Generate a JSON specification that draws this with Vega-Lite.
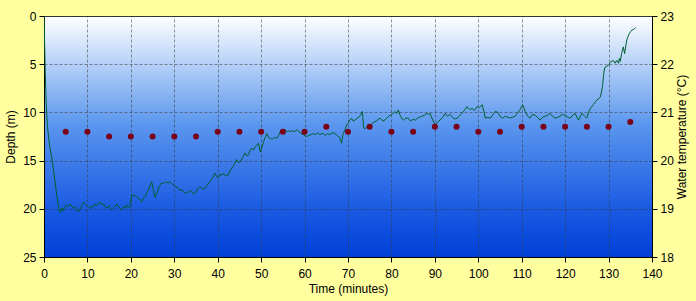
{
  "$schema": "https://vega.github.io/schema/vega-lite/v6.json",
  "width": 608,
  "height": 241,
  "autosize": {"type": "none"},
  "padding": {"left": 44, "top": 16, "right": 44, "bottom": 44},
  "background": "#FFFFA0",
  "config": {
    "font": "Liberation Sans",
    "view": {
      "stroke": "#333333",
      "strokeWidth": 1,
      "fill": {
        "gradient": "linear",
        "x1": 0, "y1": 0, "x2": 0, "y2": 1,
        "stops": [
          {"offset": 0, "color": "#FFFFFF"},
          {"offset": 0.2, "color": "#B4D0F8"},
          {"offset": 0.45, "color": "#5A96EE"},
          {"offset": 0.8, "color": "#1A5AE2"},
          {"offset": 1, "color": "#0040D8"}
        ]
      }
    },
    "axis": {
      "labelFontSize": 12,
      "titleFontSize": 12,
      "titleFontWeight": "normal",
      "labelColor": "#000",
      "titleColor": "#000",
      "domainColor": "#000",
      "tickColor": "#000",
      "tickSize": 5,
      "gridColor": "#3A3A3A",
      "gridOpacity": 0.55,
      "gridDash": [3, 2],
      "gridWidth": 1
    }
  },
  "datasets": {
    "depth": [
      {"t":0,"d":0},{"t":0.15,"d":3},{"t":0.3,"d":6},{"t":0.5,"d":9},{"t":0.8,"d":11.5},{"t":1.3,"d":13.5},{"t":1.9,"d":15},{"t":2.5,"d":17},{"t":3.0,"d":18.8},{"t":3.5,"d":20.2},
      {"t":3.8,"d":20.4},{"t":4.1,"d":19.9},{"t":4.4,"d":20.2},{"t":4.8,"d":19.8},{"t":5.1,"d":19.6},{"t":5.5,"d":19.8},{"t":6.0,"d":19.5},{"t":6.4,"d":19.7},{"t":6.8,"d":19.95},{"t":7.2,"d":19.8},
      {"t":7.6,"d":20.1},{"t":7.9,"d":20.3},{"t":8.3,"d":20.0},{"t":8.7,"d":19.7},{"t":9.1,"d":19.3},{"t":9.5,"d":19.5},{"t":9.8,"d":19.6},{"t":10.2,"d":19.8},{"t":10.6,"d":19.95},{"t":11.0,"d":19.7},
      {"t":11.3,"d":19.8},{"t":11.7,"d":19.5},{"t":12.1,"d":19.7},{"t":12.5,"d":19.4},{"t":12.9,"d":19.3},{"t":13.3,"d":19.6},{"t":13.7,"d":19.5},{"t":14.1,"d":19.8},{"t":14.5,"d":19.9},{"t":15.0,"d":19.7},
      {"t":15.3,"d":20.0},{"t":15.6,"d":20.1},{"t":16.0,"d":19.9},{"t":16.4,"d":19.7},{"t":16.8,"d":19.5},{"t":17.2,"d":19.8},{"t":17.6,"d":20.0},{"t":17.9,"d":20.1},{"t":18.3,"d":19.8},{"t":18.7,"d":19.9},
      {"t":19.0,"d":19.6},{"t":19.4,"d":19.9},{"t":19.8,"d":19.8},{"t":20.2,"d":18.5},{"t":20.6,"d":18.7},{"t":21.0,"d":18.6},{"t":21.4,"d":18.8},{"t":21.8,"d":18.9},{"t":22.2,"d":19.1},{"t":22.5,"d":19.3},
      {"t":22.9,"d":18.9},{"t":23.3,"d":18.7},{"t":23.7,"d":18.3},{"t":24.1,"d":18.0},{"t":24.5,"d":17.5},{"t":24.8,"d":17.2},{"t":25.2,"d":18.1},{"t":25.6,"d":18.8},{"t":26.0,"d":18.4},{"t":26.4,"d":17.8},
      {"t":26.8,"d":17.5},{"t":27.1,"d":17.3},{"t":27.6,"d":17.4},{"t":28.0,"d":17.2},{"t":28.6,"d":17.3},{"t":29.0,"d":17.2},{"t":29.4,"d":17.4},{"t":29.8,"d":17.5},{"t":30.3,"d":17.7},{"t":30.8,"d":17.8},
      {"t":31.3,"d":18.1},{"t":31.8,"d":18.0},{"t":32.3,"d":18.3},{"t":32.9,"d":18.4},{"t":33.4,"d":18.2},{"t":33.8,"d":18.1},{"t":34.3,"d":18.4},{"t":34.8,"d":18.4},{"t":35.3,"d":18.0},{"t":35.9,"d":17.7},
      {"t":36.5,"d":17.9},{"t":37.1,"d":17.9},{"t":37.6,"d":17.5},{"t":38.2,"d":17.2},{"t":38.7,"d":16.9},{"t":39.1,"d":16.5},{"t":39.4,"d":16.3},{"t":39.8,"d":16.7},{"t":40.1,"d":16.8},{"t":40.6,"d":16.4},
      {"t":41.0,"d":16.5},{"t":41.3,"d":16.3},{"t":41.8,"d":16.6},{"t":42.4,"d":16.5},{"t":42.9,"d":16.0},{"t":43.3,"d":15.7},{"t":43.6,"d":15.6},{"t":44.0,"d":15.2},{"t":44.4,"d":14.9},{"t":44.8,"d":15.2},
      {"t":45.2,"d":15.1},{"t":45.7,"d":14.7},{"t":46.3,"d":14.2},{"t":46.7,"d":14.5},{"t":47.1,"d":14.4},{"t":47.5,"d":13.9},{"t":47.9,"d":13.7},{"t":48.3,"d":13.9},{"t":48.6,"d":13.6},{"t":49.0,"d":13.4},
      {"t":49.4,"d":13.2},{"t":49.8,"d":14.1},{"t":50.2,"d":13.6},{"t":50.6,"d":13.0},{"t":51.0,"d":12.5},{"t":51.3,"d":12.2},{"t":51.7,"d":12.6},{"t":52.1,"d":12.7},{"t":52.6,"d":12.8},{"t":53.1,"d":12.6},
      {"t":53.6,"d":12.7},{"t":54.0,"d":12.4},{"t":54.4,"d":12.0},{"t":54.9,"d":12.1},{"t":55.5,"d":11.8},{"t":56.0,"d":12.0},{"t":56.4,"d":11.9},{"t":56.7,"d":12.0},{"t":57.2,"d":11.9},{"t":57.7,"d":12.0},
      {"t":58.2,"d":11.8},{"t":58.7,"d":12.0},{"t":59.2,"d":12.2},{"t":59.7,"d":12.3},{"t":60.1,"d":12.4},{"t":60.5,"d":12.5},{"t":61.0,"d":12.4},{"t":61.5,"d":12.3},{"t":62.0,"d":12.2},{"t":62.5,"d":12.3},
      {"t":63.0,"d":12.1},{"t":63.5,"d":12.3},{"t":64.0,"d":12.2},{"t":64.3,"d":12.2},{"t":64.8,"d":12.4},{"t":65.3,"d":12.2},{"t":65.8,"d":12.3},{"t":66.4,"d":12.1},{"t":67.0,"d":12.2},{"t":67.5,"d":12.4},
      {"t":68.1,"d":12.6},{"t":68.5,"d":13.2},{"t":68.9,"d":12.2},{"t":69.3,"d":11.8},{"t":69.7,"d":11.3},{"t":70.1,"d":11.1},{"t":70.4,"d":10.8},{"t":70.8,"d":10.6},{"t":71.2,"d":10.9},{"t":71.6,"d":10.8},
      {"t":72.1,"d":10.6},{"t":72.7,"d":10.4},{"t":73.0,"d":10.2},{"t":73.3,"d":9.9},{"t":73.6,"d":11.6},{"t":74.0,"d":11.7},{"t":74.5,"d":11.4},{"t":75.0,"d":11.5},{"t":75.5,"d":11.2},{"t":76.0,"d":11.0},
      {"t":76.5,"d":10.9},{"t":77.0,"d":10.7},{"t":77.4,"d":10.6},{"t":78.0,"d":10.9},{"t":78.5,"d":10.8},{"t":79.1,"d":10.5},{"t":79.7,"d":10.3},{"t":80.2,"d":10.2},{"t":80.8,"d":9.9},{"t":81.2,"d":10.1},
      {"t":81.6,"d":9.75},{"t":82.0,"d":10.3},{"t":82.5,"d":10.7},{"t":82.8,"d":10.8},{"t":83.3,"d":10.6},{"t":83.9,"d":10.6},{"t":84.4,"d":10.9},{"t":85.0,"d":10.7},{"t":85.5,"d":10.8},{"t":86.0,"d":10.6},
      {"t":86.5,"d":10.5},{"t":87.0,"d":10.4},{"t":87.6,"d":10.3},{"t":88.2,"d":10.1},{"t":88.6,"d":10.2},{"t":88.9,"d":10.1},{"t":89.5,"d":10.8},{"t":90.1,"d":11.3},{"t":90.6,"d":11.0},{"t":91.2,"d":10.8},
      {"t":91.8,"d":10.5},{"t":92.4,"d":10.1},{"t":92.9,"d":10.4},{"t":93.4,"d":10.2},{"t":93.9,"d":10.4},{"t":94.5,"d":10.7},{"t":95.1,"d":10.6},{"t":95.6,"d":10.4},{"t":96.2,"d":10.1},{"t":96.8,"d":9.8},
      {"t":97.4,"d":9.4},{"t":98.0,"d":9.7},{"t":98.6,"d":9.6},{"t":99.1,"d":9.8},{"t":99.7,"d":9.4},{"t":100.3,"d":9.5},{"t":100.9,"d":9.2},{"t":101.3,"d":9.9},{"t":101.6,"d":10.6},{"t":102.2,"d":10.5},
      {"t":102.8,"d":10.6},{"t":103.4,"d":10.2},{"t":103.9,"d":9.9},{"t":104.5,"d":10.0},{"t":105.0,"d":10.4},{"t":105.6,"d":10.6},{"t":106.2,"d":10.4},{"t":106.8,"d":10.5},{"t":107.3,"d":10.6},{"t":107.9,"d":10.5},
      {"t":108.5,"d":10.4},{"t":109.0,"d":10.1},{"t":109.6,"d":9.75},{"t":110.2,"d":9.2},{"t":110.8,"d":9.9},{"t":111.4,"d":10.4},{"t":111.9,"d":10.6},{"t":112.5,"d":10.2},{"t":113.1,"d":10.3},{"t":113.6,"d":10.5},
      {"t":114.2,"d":10.8},{"t":114.8,"d":10.5},{"t":115.4,"d":10.4},{"t":115.9,"d":10.3},{"t":116.5,"d":10.1},{"t":117.1,"d":10.4},{"t":117.7,"d":10.6},{"t":118.3,"d":10.5},{"t":118.8,"d":10.4},{"t":119.4,"d":10.2},
      {"t":120.0,"d":10.3},{"t":120.6,"d":10.5},{"t":121.2,"d":10.6},{"t":121.7,"d":10.3},{"t":122.3,"d":10.1},{"t":122.7,"d":10.5},{"t":123.1,"d":10.8},{"t":123.5,"d":10.4},{"t":123.9,"d":10.1},{"t":124.5,"d":10.4},
      {"t":125.0,"d":10.6},{"t":125.4,"d":10.0},{"t":125.8,"d":9.6},{"t":126.5,"d":9.2},{"t":127.0,"d":8.9},{"t":127.3,"d":8.7},{"t":127.7,"d":8.6},{"t":128.1,"d":8.4},{"t":128.4,"d":7.8},{"t":128.6,"d":7.3},
      {"t":128.8,"d":6.4},{"t":129.0,"d":5.6},{"t":129.2,"d":5.3},{"t":129.6,"d":5.2},{"t":130.0,"d":5.1},{"t":130.4,"d":4.8},{"t":130.8,"d":4.7},{"t":131.1,"d":4.6},{"t":131.5,"d":4.9},{"t":131.9,"d":4.6},
      {"t":132.3,"d":4.9},{"t":132.5,"d":4.4},{"t":132.7,"d":4.7},{"t":133.0,"d":3.9},{"t":133.4,"d":3.2},{"t":133.7,"d":3.9},{"t":134.0,"d":3.0},{"t":134.2,"d":2.5},{"t":134.5,"d":2.1},{"t":134.8,"d":1.8},
      {"t":135.1,"d":1.6},{"t":135.4,"d":1.45},{"t":135.8,"d":1.4},{"t":136.2,"d":1.2}
    ],
    "temp": [
      {"t":5,"c":20.6},{"t":10,"c":20.6},{"t":15,"c":20.5},{"t":20,"c":20.5},{"t":25,"c":20.5},{"t":30,"c":20.5},{"t":35,"c":20.5},
      {"t":40,"c":20.6},{"t":45,"c":20.6},{"t":50,"c":20.6},{"t":55,"c":20.6},{"t":60,"c":20.6},{"t":65,"c":20.7},{"t":70,"c":20.6},
      {"t":75,"c":20.7},{"t":80,"c":20.6},{"t":85,"c":20.6},{"t":90,"c":20.7},{"t":95,"c":20.7},{"t":100,"c":20.6},{"t":105,"c":20.6},
      {"t":110,"c":20.7},{"t":115,"c":20.7},{"t":120,"c":20.7},{"t":125,"c":20.7},{"t":130,"c":20.7},{"t":135,"c":20.8}
    ]
  },
  "layer": [
    {
      "data": {"name": "depth"},
      "mark": {"type": "line", "color": "#006030", "strokeWidth": 1, "clip": true},
      "encoding": {
        "x": {
          "field": "t", "type": "quantitative",
          "scale": {"domain": [0, 140], "nice": false},
          "axis": {"title": "Time (minutes)", "values": [0,10,20,30,40,50,60,70,80,90,100,110,120,130,140], "grid": true, "labelPadding": 6, "titlePadding": 4, "labelFlush": false}
        },
        "y": {
          "field": "d", "type": "quantitative",
          "scale": {"domain": [0, 25], "reverse": true, "nice": false},
          "axis": {"title": "Depth (m)", "values": [0,5,10,15,20,25], "grid": true, "orient": "left", "labelPadding": 3, "titlePadding": 5, "labelFlush": false}
        }
      }
    },
    {
      "data": {"name": "temp"},
      "mark": {"type": "point", "filled": true, "color": "#7A0018", "size": 36, "opacity": 1},
      "encoding": {
        "x": {"field": "t", "type": "quantitative", "scale": {"domain": [0, 140], "nice": false}},
        "y": {
          "field": "c", "type": "quantitative",
          "scale": {"domain": [18, 23], "nice": false},
          "axis": {"title": "Water temperature (°C)", "values": [18,19,20,21,22,23], "grid": false, "orient": "right", "labelPadding": 3, "titlePadding": 3, "titleAngle": 270, "titleBaseline": "top", "labelFlush": false}
        }
      }
    }
  ],
  "resolve": {"scale": {"y": "independent"}}
}
